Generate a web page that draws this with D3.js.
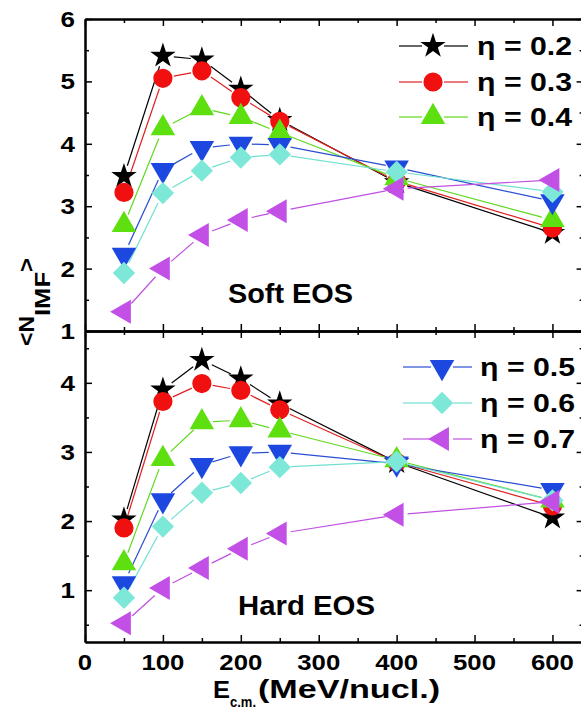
<!DOCTYPE html>
<html><head><meta charset="utf-8">
<script src="https://cdn.jsdelivr.net/npm/d3@7/dist/d3.min.js"></script>
<style>
body{margin:0;background:#fff}
svg{display:block}
text{font-family:"Liberation Sans",Arial,Helvetica,sans-serif;font-weight:bold;fill:#000}
</style>
</head><body>
<svg id="chart" width="581" height="711"></svg>
<script>
// ---------------- data ----------------
const energies = [50, 100, 150, 200, 250, 400, 600];
const etaLabels = ["η = 0.2", "η = 0.3", "η = 0.4", "η = 0.5", "η = 0.6", "η = 0.7"];
// Soft EOS panel
const softEta02 = [3.48, 5.41, 5.35, 4.88, 4.38, 3.38, 2.57];
const softEta03 = [3.22, 5.05, 5.17, 4.74, 4.36, 3.40, 2.65];
const softEta04 = [2.70, 4.25, 4.57, 4.43, 4.18, 3.45, 2.78];
const softEta05 = [2.22, 3.58, 3.93, 4.00, 3.98, 3.62, 3.08];
const softEta06 = [1.93, 3.21, 3.57, 3.78, 3.83, 3.55, 3.23];
const softEta07 = [1.31, 2.00, 2.54, 2.78, 2.92, 3.28, 3.42];
// Hard EOS panel
const hardEta02 = [2.02, 3.90, 4.33, 4.06, 3.70, 2.85, 2.05];
const hardEta03 = [1.90, 3.73, 3.99, 3.89, 3.61, 2.85, 2.22];
const hardEta04 = [1.39, 2.90, 3.43, 3.46, 3.31, 2.88, 2.30];
const hardEta05 = [1.10, 2.30, 2.81, 2.98, 3.00, 2.83, 2.45];
const hardEta06 = [0.89, 1.92, 2.41, 2.55, 2.78, 2.86, 2.30];
const hardEta07 = [0.52, 1.03, 1.32, 1.60, 1.82, 2.09, 2.28];
// ticks
const xTickLabels = [0, 100, 200, 300, 400, 500, 600];
const xMinorTicks = [50, 150, 250, 350, 450, 550];
const softYTicks = [1, 2, 3, 4, 5, 6];
const softYMinor = [1.5, 2.5, 3.5, 4.5, 5.5];
const hardYTicks = [1, 2, 3, 4];
const hardYMinor = [0.5, 1.5, 2.5, 3.5, 4.5];

// ---------------- styles ----------------
const markerColors = ["#000000", "#f01010", "#5ee010", "#1c48e0", "#7ee8d8", "#c24fe6"];
const lineColors   = ["#000000", "#e02020", "#60d820", "#2a4ed0", "#70e0d0", "#c050e0"];
const shapes = [
  {type: d3.symbolStar, size: 200, rot: 0},
  {type: d3.symbolCircle, size: 290, rot: 0},
  {type: d3.symbolTriangle, size: 260, rot: 0},
  {type: d3.symbolTriangle, size: 260, rot: 180},
  {type: d3.symbolSquare, size: 250, rot: 45},
  {type: d3.symbolTriangle, size: 250, rot: -90}
];

const svg = d3.select("#chart");
const x = d3.scaleLinear().domain([0, 640]).range([85, 583.6]);
const ySoft = d3.scaleLinear().domain([1, 6]).range([331, 19]);
const yHard = d3.scaleLinear().domain([0.25, 4.75]).range([642, 331]);

function styleAxis(g) {
  g.selectAll(".domain").attr("stroke", "#000").attr("stroke-width", 2);
  g.selectAll(".tick line").attr("stroke", "#000").attr("stroke-width", 1.5);
  g.selectAll(".tick text").remove();
}

function frame(y, yMajor, yMinor) {
  const [x0, x1] = x.range();
  const [yb, yt] = y.range();
  const g = svg.append("g");
  const ax = [
    [d3.axisBottom(x).tickValues(xTickLabels).tickSize(-7), `translate(0,${yb})`],
    [d3.axisBottom(x).tickValues(xMinorTicks).tickSize(-4), `translate(0,${yb})`],
    [d3.axisTop(x).tickValues(xTickLabels).tickSize(-7), `translate(0,${yt})`],
    [d3.axisTop(x).tickValues(xMinorTicks).tickSize(-4), `translate(0,${yt})`],
    [d3.axisLeft(y).tickValues(yMajor).tickSize(-7), `translate(${x0},0)`],
    [d3.axisLeft(y).tickValues(yMinor).tickSize(-4), `translate(${x0},0)`],
    [d3.axisRight(y).tickValues(yMajor).tickSize(-7), `translate(${x1},0)`],
    [d3.axisRight(y).tickValues(yMinor).tickSize(-4), `translate(${x1},0)`]
  ];
  ax.forEach(([a, t]) => {
    g.append("g").attr("transform", t).call(a.tickSizeOuter(0).tickFormat("")).call(styleAxis);
  });
}

function txt(px, py, str, size, anchor, sx) {
  return svg.append("text")
    .attr("transform", `translate(${px},${py}) scale(${sx},1)`)
    .attr("text-anchor", anchor)
    .attr("font-size", size)
    .text(str);
}
function txtLen(px, py, str, size, len) {
  return svg.append("text")
    .attr("x", px).attr("y", py)
    .attr("font-size", size)
    .attr("textLength", len)
    .attr("lengthAdjust", "spacingAndGlyphs")
    .text(str);
}

function series(y, arrays) {
  const gap = 11;
  const lg = svg.append("g");
  arrays.forEach((vals, i) => {
    const pts = energies.map((e, k) => [x(e), y(vals[k])]);
    for (let k = 0; k < pts.length - 1; k++) {
      const [ax1, ay1] = pts[k], [bx, by] = pts[k + 1];
      const dx = bx - ax1, dy = by - ay1, L = Math.hypot(dx, dy);
      if (L <= 2 * gap) continue;
      const ux = dx / L, uy = dy / L;
      lg.append("line")
        .attr("x1", ax1 + ux * gap).attr("y1", ay1 + uy * gap)
        .attr("x2", bx - ux * gap).attr("y2", by - uy * gap)
        .attr("stroke", lineColors[i]).attr("stroke-width", 1.2);
    }
  });
  const mg = svg.append("g");
  arrays.forEach((vals, i) => {
    const s = shapes[i];
    mg.selectAll(null).data(energies).enter().append("path")
      .attr("d", d3.symbol().type(s.type).size(s.size))
      .attr("transform", (e, k) => `translate(${x(e)},${y(vals[k])}) rotate(${s.rot})`)
      .attr("fill", markerColors[i]);
  });
}

function legend(x0, x1, xm, xt, baselines, idx) {
  idx.forEach((i, r) => {
    const cy = baselines[r] - 9;
    const s = shapes[i];
    svg.append("line").attr("x1", x0).attr("x2", xm - 11).attr("y1", cy).attr("y2", cy)
      .attr("stroke", lineColors[i]).attr("stroke-width", 1.2);
    svg.append("line").attr("x1", xm + 11).attr("x2", x1).attr("y1", cy).attr("y2", cy)
      .attr("stroke", lineColors[i]).attr("stroke-width", 1.2);
    svg.append("path").attr("d", d3.symbol().type(s.type).size(s.size))
      .attr("transform", `translate(${xm},${cy}) rotate(${s.rot})`)
      .attr("fill", markerColors[i]);
    txtLen(xt, baselines[r], etaLabels[i], 25, 95);
  });
}

// panels
frame(ySoft, softYTicks, softYMinor);
frame(yHard, hardYTicks, hardYMinor);

series(ySoft, [softEta02, softEta03, softEta04, softEta05, softEta06, softEta07]);
series(yHard, [hardEta02, hardEta03, hardEta04, hardEta05, hardEta06, hardEta07]);

// tick labels
softYTicks.forEach(v => txt(75, ySoft(v) + 8, String(v), 22, "end", 1.18));
hardYTicks.forEach(v => txt(75, yHard(v) + 8, String(v), 22, "end", 1.18));
xTickLabels.forEach(v => txt(x(v), 670, String(v), 23, "middle", 1.12));

// legends
legend(399, 468, 433, 477, [55, 91, 126], [0, 1, 2]);
legend(403, 472, 442, 480, [376, 412, 448], [3, 4, 5]);

// panel labels
txtLen(228, 303, "Soft EOS", 27, 125);
txtLen(238, 615, "Hard EOS", 27, 137);

// x title
txtLen(213, 698, "E", 24, 17);
txtLen(230, 707, "c.m.", 15, 26);
txtLen(258, 698, "(MeV/nucl.)", 25, 182);

// y title
const yt = svg.append("g").attr("transform", "translate(34,346) rotate(-90)");
yt.append("text").attr("x", 0).attr("y", 0).attr("font-size", 22)
  .attr("textLength", 30).attr("lengthAdjust", "spacingAndGlyphs").text("<N");
yt.append("text").attr("x", 30).attr("y", 16).attr("font-size", 22)
  .attr("textLength", 44).attr("lengthAdjust", "spacingAndGlyphs").text("IMF");
yt.append("text").attr("x", 74).attr("y", 0).attr("font-size", 22)
  .attr("textLength", 14).attr("lengthAdjust", "spacingAndGlyphs").text(">");
</script>
</body></html>
